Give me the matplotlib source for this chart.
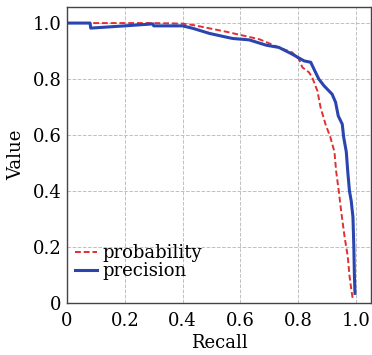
import matplotlib
matplotlib.use("Agg")
import matplotlib.pyplot as plt

# curves
prob_recall = [0.0, 0.30, 0.40, 0.436, 0.551, 0.666, 0.733, 0.779, 0.802, 0.814,
               0.837, 0.848, 0.866, 0.877, 0.894, 0.911, 0.925, 0.931, 0.940,
               0.948, 0.960, 0.971, 0.977, 0.983, 0.989]
prob_value = [1.0, 1.0, 0.998, 0.993, 0.969, 0.942, 0.913, 0.895, 0.871, 0.842,
              0.824, 0.806, 0.758, 0.699, 0.639, 0.592, 0.540, 0.470, 0.400,
              0.330, 0.237, 0.167, 0.098, 0.051, 0.010]

prec_recall = [0.0, 0.08, 0.082, 0.20, 0.297, 0.30, 0.40, 0.436, 0.493, 0.55,
               0.573, 0.63, 0.689, 0.733, 0.779, 0.820, 0.843, 0.854, 0.871,
               0.889, 0.917, 0.929, 0.938, 0.952, 0.957, 0.966, 0.971, 0.977,
               0.983, 0.989, 0.992, 0.994, 0.996]
prec_value = [1.0, 1.0, 0.982, 0.99, 0.997, 0.99, 0.99, 0.981, 0.963, 0.95,
              0.945, 0.94, 0.921, 0.913, 0.889, 0.865, 0.860, 0.836, 0.800,
              0.776, 0.746, 0.717, 0.669, 0.639, 0.592, 0.540, 0.470, 0.400,
              0.365, 0.307, 0.202, 0.098, 0.035]

xticks = [0, 0.2, 0.4, 0.6, 0.8, 1.0]
xtick_labels = ["0", "0.2", "0.4", "0.6", "0.8", "1.0"]
yticks = [0, 0.2, 0.4, 0.6, 0.8, 1.0]
ytick_labels = ["0", "0.2", "0.4", "0.6", "0.8", "1.0"]

plt.rcParams['font.family'] = ['DejaVu Serif']

fig = plt.figure(figsize=(3.72, 3.55), dpi=100)
ax = fig.add_axes([0.180, 0.146, 0.817, 0.834])

ax.plot(prob_recall, prob_value, color='#e03030', linestyle=(0, (3, 1.5)),
        linewidth=1.4, label='probability')
ax.plot(prec_recall, prec_value, color='#2a45b0', linewidth=2.2,
        label='precision')

ax.set_xlim(0, 1.051)
ax.set_ylim(0, 1.057)
ax.set_xticks(xticks)
ax.set_xticklabels(xtick_labels)
ax.set_yticks(yticks)
ax.set_yticklabels(ytick_labels)
ax.tick_params(axis='x', length=0, labelsize=13, pad=6)
ax.tick_params(axis='y', length=0, labelsize=13, pad=4)
ax.grid(True, linestyle='--', color='#c0c0c0', linewidth=0.7)

for s in ax.spines.values():
    s.set_color('#444444')
    s.set_linewidth(1.0)

ax.set_xlabel('Recall', fontsize=13, labelpad=3)
ax.set_ylabel('Value', fontsize=13, labelpad=5)

ax.legend(loc='upper left', bbox_to_anchor=(0.026, 0.2), frameon=False,
          fontsize=13, handlelength=1.2, handletextpad=0.35, labelspacing=0.0,
          borderpad=0.0, borderaxespad=0.0)

fig.savefig('out.png', dpi=100)
